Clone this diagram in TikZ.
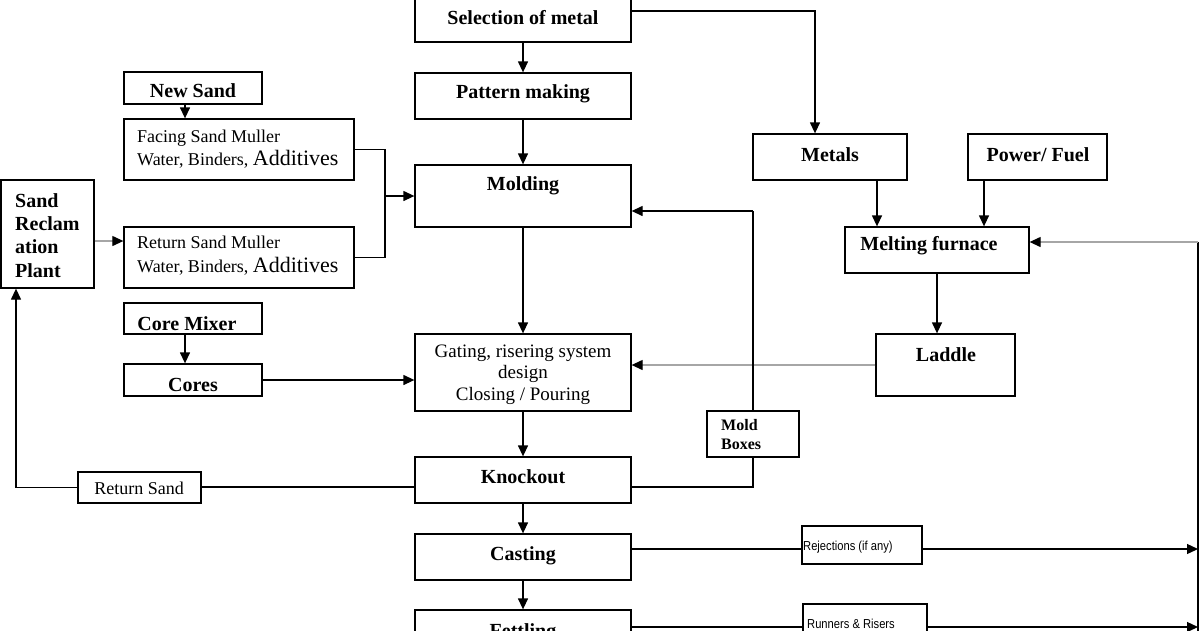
\documentclass[tikz,border=0pt]{standalone}
\usepackage{fontspec}
\setmainfont{Liberation Serif}
\newfontfamily\sansf{Liberation Sans}
\usetikzlibrary{arrows.meta,fit}
\begin{document}
\begin{tikzpicture}[x=1pt,y=-1pt,
  bx/.style={draw, line width=1.3pt, inner sep=0pt},
  bt/.style={font=\fontsize{20}{22}\selectfont\bfseries, anchor=base, inner sep=0pt},
  btl/.style={font=\fontsize{20}{22}\selectfont\bfseries, anchor=base west, inner sep=0pt},
  rt/.style={font=\fontsize{18}{20}\selectfont, anchor=base west, inner sep=0pt},
  st/.style={font=\sansf\fontsize{13}{15}\selectfont, anchor=base west, inner sep=0pt},
  ln/.style={line width=1.3pt},
  arr/.style={line width=1.3pt, -{Triangle[length=11pt,width=10pt]}},
  garr/.style={line width=1.2pt, draw=black!35, -{Triangle[length=11pt,width=10pt,color=black]}}]
\useasboundingbox (0,0) rectangle (1200,630);
\clip (0,0) rectangle (1200,630);
\fill[white] (0,0) rectangle (1200,630);

% ---- boxes ----
\node[bx, fit={(415,-20) (631,42)}] (sel) {};
\node[bx, fit={(415,73) (631,119)}] (pat) {};
\node[bx, fit={(415,165) (631,227)}] (mol) {};
\node[bx, fit={(415,334) (631,411)}] (gat) {};
\node[bx, fit={(415,457) (631,503)}] (kno) {};
\node[bx, fit={(415,534) (631,580)}] (cas) {};
\node[bx, fit={(415,610) (631,660)}] (fet) {};
\node[bx, fit={(124,72) (262,104)}] (news) {};
\node[bx, fit={(124,119) (354,180)}] (fac) {};
\node[bx, fit={(124,227) (354,288)}] (ret) {};
\node[bx, fit={(1,180) (94,288)}] (srp) {};
\node[bx, fit={(124,303) (262,334)}] (cmx) {};
\node[bx, fit={(124,364) (262,396)}] (cor) {};
\node[bx, fit={(78,472) (201,503)}] (rsd) {};
\node[bx, fit={(753,134) (907,180)}] (met) {};
\node[bx, fit={(968,134) (1107,180)}] (pow) {};
\node[bx, fit={(845,227) (1029,273)}] (mel) {};
\node[bx, fit={(876,334) (1015,396)}] (lad) {};
\node[bx, fit={(802,526) (922,564)}] (rej) {};
\node[bx, fit={(803,604) (927,660)}] (run) {};

% ---- texts ----
\node[bt] (tsel) at (523,24) {Selection of metal};
\node[bt] (tpat) at (523,98) {Pattern making};
\node[bt] (tmol) at (523,190) {Molding};
\node[font=\fontsize{19}{21}\selectfont, anchor=base, inner sep=0pt] (tgat1) at (523,357) {Gating, risering system};
\node[font=\fontsize{19}{21}\selectfont, anchor=base, inner sep=0pt] (tgat2) at (523,378) {design};
\node[font=\fontsize{19}{21}\selectfont, anchor=base, inner sep=0pt] (tgat3) at (523,400) {Closing / Pouring};
\node[bt] (tkno) at (523,483) {Knockout};
\node[bt] (tcas) at (523,560) {Casting};
\node[bt] (tfet) at (523,637) {Fettling};
\node[bt] (tnews) at (193,97) {New Sand};
\node[rt] (tfac1) at (137,142) {Facing Sand Muller};
\node[rt] (tfac2) at (137,165) {Water, Binders, {\fontsize{22}{24}\selectfont Additives}};
\node[rt] (tret1) at (137,248) {Return Sand Muller};
\node[rt] (tret2) at (137,272) {Water, Binders, {\fontsize{22}{24}\selectfont Additives}};
\node[btl] (tsrp1) at (15,207) {Sand};
\node[btl] (tsrp2) at (15,230) {Reclam};
\node[btl] (tsrp3) at (15,253) {ation};
\node[btl] (tsrp4) at (15,277) {Plant};
\node[bt] (tcmx) at (187,330) {Core Mixer};
\node[bt] (tcor) at (193,391) {Cores};
\node[font=\fontsize{18}{20}\selectfont, anchor=base, inner sep=0pt] (trsd) at (139,494) {Return Sand};
\node[bt] (tmet) at (830,161) {Metals};
\node[bt] (tpow) at (1038,161) {Power/ Fuel};
\node[bt] (tmel) at (929,250) {Melting furnace};
\node[bt] (tlad) at (946,361) {Laddle};
\node[st] (trej) at (803,550) {\scalebox{0.86}[1]{Rejections (if any)}};
\node[st] (trun) at (807,628) {\scalebox{0.86}[1]{Runners \& Risers}};

% ---- helper coordinates ----
\coordinate (j) at (385,196);
\coordinate (mb) at (753,211);
\coordinate (rtop) at (1198,242);
\coordinate (rbot) at (1198,640);

% ---- connectors ----
\draw[arr] (sel) -- (pat);
\draw[arr] (pat) -- (mol);
\draw[arr] (mol) -- (gat);
\draw[arr] (gat) -- (kno);
\draw[arr] (kno) -- (cas);
\draw[arr] (cas) -- (fet);

\draw[arr] (sel.east) -| ([xshift=-15pt]met.north);
\draw[arr] ([xshift=47pt]met.south) -- ([xshift=47pt]met.south |- mel.north);
\draw[arr] ([xshift=-53.5pt]pow.south) -- ([xshift=-53.5pt]pow.south |- mel.north);
\draw[arr] (mel.south) -- (mel.south |- lad.north);
\draw[garr] (lad.west) -- (lad.west -| gat.east);

\draw[ln] ([yshift=-7pt]kno.east) -| (mb);
\draw[arr] (mb) -- (mb -| mol.east);

\draw[ln] ([yshift=-7pt]kno.west) -- ([yshift=-7pt]kno.west -| rsd.east);
\draw[arr] (rsd.west) -| ([xshift=-31.5pt]srp.south);
\draw[garr] ([yshift=-7pt]srp.east) -- ([yshift=-7pt]srp.east -| ret.west);

\draw[ln] (fac.east) -| (j) |- (ret.east);
\draw[arr] (j) -- (j -| mol.west);
\draw[arr] ([xshift=-8pt]news.south) -- ([xshift=-8pt]news.south |- fac.north);
\draw[arr] ([xshift=-8pt]cmx.south) -- ([xshift=-8pt]cmx.south |- cor.north);
\draw[arr] (cor.east) -- (cor.east -| gat.west);

\draw[ln] ([yshift=8pt]cas.east) -- ([yshift=8pt]cas.east -| rej.west);
\draw[arr] ([yshift=8pt]cas.east -| rej.east) -- ([yshift=8pt]cas.east -| rtop);
\draw[ln] ([yshift=8pt]fet.east) -- ([yshift=8pt]fet.east -| run.west);
\draw[arr] ([yshift=8pt]fet.east -| run.east) -- ([yshift=8pt]fet.east -| rtop);
\draw[line width=1.6pt] (rtop) -- (rbot);
\draw[garr] (rtop) -- (rtop -| mel.east);

% mold boxes on top of the line
\node[bx, fill=white, fit={(707,411) (799,457)}] (mbx) {};
\node[font=\fontsize{16}{18}\selectfont\bfseries, anchor=base west, inner sep=0pt] (tmbx1) at (721,430) {Mold};
\node[font=\fontsize{16}{18}\selectfont\bfseries, anchor=base west, inner sep=0pt] (tmbx2) at (721,449) {Boxes};
\end{tikzpicture}
\end{document}
